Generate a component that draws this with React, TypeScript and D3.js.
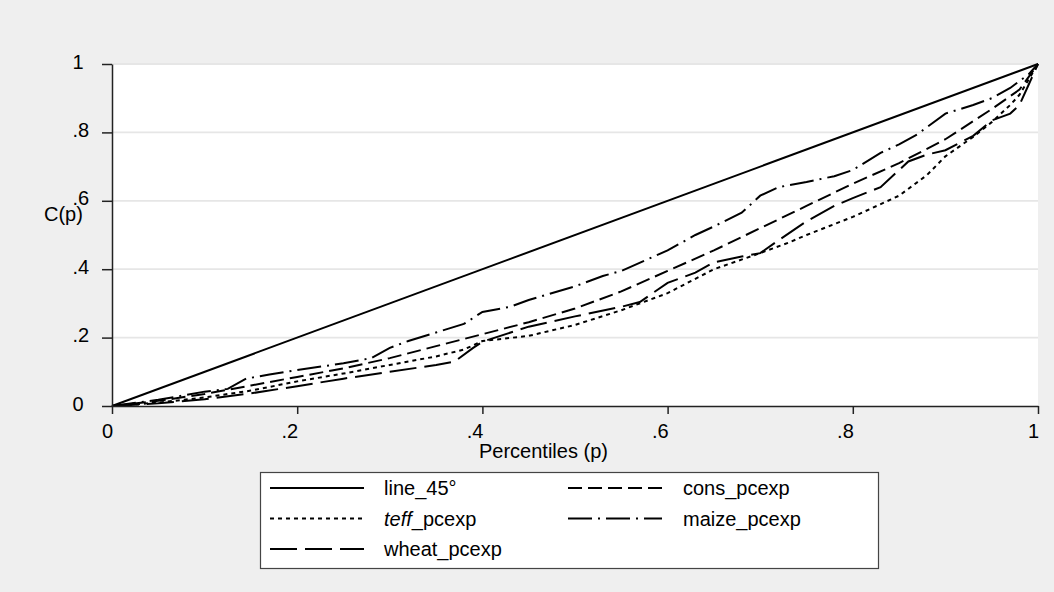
import React, { useEffect, useRef } from "react";
import * as d3 from "d3";

// concentration curves
const linePct = [0, 1];
const lineC = [0, 1];

const consPct = [0, 0.05, 0.1, 0.15, 0.2, 0.25, 0.3, 0.35, 0.4, 0.45, 0.5, 0.55, 0.6, 0.65, 0.7, 0.75, 0.8, 0.85, 0.9, 0.95, 0.98, 1];
const consC = [0, 0.015, 0.035, 0.06, 0.085, 0.11, 0.14, 0.175, 0.21, 0.245, 0.285, 0.335, 0.395, 0.455, 0.52, 0.585, 0.65, 0.71, 0.78, 0.868, 0.925, 1];

const teffPct = [0, 0.05, 0.1, 0.15, 0.2, 0.25, 0.3, 0.35, 0.38, 0.4, 0.45, 0.5, 0.55, 0.6, 0.65, 0.7, 0.73, 0.75, 0.8, 0.85, 0.88, 0.9, 0.93, 0.95, 0.97, 0.98, 1];
const teffC = [0, 0.01, 0.025, 0.045, 0.072, 0.095, 0.12, 0.145, 0.165, 0.19, 0.205, 0.237, 0.28, 0.33, 0.4, 0.447, 0.477, 0.5, 0.553, 0.615, 0.675, 0.73, 0.787, 0.83, 0.88, 0.91, 1];

const maizePct = [0, 0.05, 0.1, 0.125, 0.145, 0.17, 0.2, 0.25, 0.28, 0.3, 0.32, 0.35, 0.38, 0.4, 0.43, 0.45, 0.5, 0.53, 0.55, 0.6, 0.63, 0.65, 0.68, 0.7, 0.72, 0.75, 0.78, 0.8, 0.83, 0.85, 0.87, 0.9, 0.93, 0.95, 0.97, 0.99, 1];
const maizeC = [0, 0.018, 0.042, 0.05, 0.08, 0.092, 0.105, 0.125, 0.14, 0.17, 0.19, 0.215, 0.24, 0.275, 0.29, 0.31, 0.35, 0.38, 0.395, 0.455, 0.5, 0.525, 0.565, 0.615, 0.64, 0.655, 0.672, 0.69, 0.74, 0.765, 0.795, 0.855, 0.88, 0.9, 0.93, 0.97, 1];

const wheatPct = [0, 0.05, 0.1, 0.15, 0.2, 0.25, 0.3, 0.35, 0.37, 0.39, 0.4, 0.45, 0.5, 0.55, 0.57, 0.6, 0.63, 0.65, 0.68, 0.7, 0.72, 0.75, 0.78, 0.8, 0.83, 0.86, 0.88, 0.9, 0.93, 0.95, 0.97, 0.98, 0.99, 1];
const wheatC = [0, 0.008, 0.02, 0.037, 0.058, 0.08, 0.1, 0.12, 0.13, 0.17, 0.188, 0.232, 0.262, 0.29, 0.304, 0.36, 0.39, 0.42, 0.437, 0.447, 0.485, 0.54, 0.585, 0.608, 0.64, 0.715, 0.735, 0.748, 0.79, 0.835, 0.855, 0.88, 0.94, 1];

const yTicks = [0, 0.2, 0.4, 0.6, 0.8, 1];
const xTicks = [0, 0.2, 0.4, 0.6, 0.8, 1];

const series = [
  { name: "line_45°", pct: linePct, c: lineC, dash: null, col: 0, row: 0 },
  { name: "cons_pcexp", pct: consPct, c: consC, dash: "14,6", col: 1, row: 0 },
  { name: "teff_pcexp", pct: teffPct, c: teffC, dash: "4,4", col: 0, row: 1 },
  { name: "maize_pcexp", pct: maizePct, c: maizeC, dash: "24,6,2,6", col: 1, row: 1 },
  { name: "wheat_pcexp", pct: wheatPct, c: wheatC, dash: "27,8", col: 0, row: 2 },
];

const fmt = (d) => (d === 0 ? "0" : d === 1 ? "1" : String(d).replace(/^0/, ""));
const FONT = "Arial, 'Liberation Sans', Helvetica, sans-serif";

const App = () => {
  const svgRef = useRef();

  useEffect(() => {
    const W = 1054;
    const H = 592;
    const left = 112, right = 1038, top = 64, bottom = 406;

    const svg = d3.select(svgRef.current);
    svg.selectAll("*").remove();
    svg.attr("width", W).attr("height", H).style("font-family", FONT);

    svg.append("rect").attr("width", W).attr("height", H).attr("fill", "#efefef");
    svg.append("rect")
      .attr("x", left).attr("y", top)
      .attr("width", right - left).attr("height", bottom - top)
      .attr("fill", "#ffffff");

    const x = d3.scaleLinear().domain([0, 1]).range([left, right]);
    const y = d3.scaleLinear().domain([0, 1]).range([bottom, top]);

    // gridlines
    svg.append("g")
      .selectAll("line")
      .data(yTicks.filter((d) => d > 0))
      .enter()
      .append("line")
      .attr("x1", left).attr("x2", right)
      .attr("y1", (d) => y(d)).attr("y2", (d) => y(d))
      .attr("stroke", "#e6e6e6")
      .attr("stroke-width", 1.8);

    // curves
    const line = d3.line().x((d) => x(d[0])).y((d) => y(d[1]));
    series.forEach((s) => {
      const pts = s.pct.map((p, i) => [p, s.c[i]]);
      svg.append("path")
        .datum(pts)
        .attr("d", line)
        .attr("fill", "none")
        .attr("stroke", "#000")
        .attr("stroke-width", 2)
        .attr("stroke-dasharray", s.dash);
    });

    // axes
    const yAxis = svg.append("g")
      .attr("transform", `translate(${left},0)`)
      .call(d3.axisLeft(y).tickValues(yTicks).tickFormat(fmt).tickSize(10).tickSizeOuter(0));
    yAxis.select(".domain").attr("stroke", "#222").attr("stroke-width", 1.5);
    yAxis.selectAll(".tick line").attr("stroke", "#222").attr("stroke-width", 1.5);
    yAxis.selectAll(".tick text")
      .attr("x", -39.5).attr("dy", null).attr("y", 4)
      .attr("text-anchor", "start")
      .attr("fill", "#000")
      .style("font-size", "20px").style("font-family", FONT);

    const xAxis = svg.append("g")
      .attr("transform", `translate(0,${bottom})`)
      .call(d3.axisBottom(x).tickValues(xTicks).tickFormat(fmt).tickSize(8).tickSizeOuter(0));
    xAxis.select(".domain").attr("stroke", "#222").attr("stroke-width", 1.5);
    xAxis.selectAll(".tick line").attr("stroke", "#222").attr("stroke-width", 1.5);
    xAxis.selectAll(".tick text")
      .attr("x", 0.5).attr("dy", null).attr("y", 32)
      .attr("text-anchor", "end")
      .attr("fill", "#000")
      .style("font-size", "20px").style("font-family", FONT);

    // axis titles
    svg.append("text")
      .attr("x", 479).attr("y", 458)
      .style("font-size", "20px")
      .text("Percentiles (p)");
    svg.append("text")
      .attr("x", 44).attr("y", 221)
      .style("font-size", "20px")
      .text("C(p)");

    // legend
    const lg = svg.append("g");
    lg.append("rect")
      .attr("x", 260.5).attr("y", 472.5)
      .attr("width", 618).attr("height", 96)
      .attr("fill", "#fff")
      .attr("stroke", "#444")
      .attr("stroke-width", 1.2);
    const colX = [270, 568];
    const textX = [384, 683];
    const rowY = [488, 518.5, 549];
    series.forEach((s) => {
      lg.append("line")
        .attr("x1", colX[s.col]).attr("x2", colX[s.col] + 94)
        .attr("y1", rowY[s.row]).attr("y2", rowY[s.row])
        .attr("stroke", "#000")
        .attr("stroke-width", 2)
        .attr("stroke-dasharray", s.dash);
      const t = lg.append("text")
        .attr("x", textX[s.col]).attr("y", rowY[s.row] + 7)
        .style("font-size", "20px");
      if (s.name.startsWith("teff")) {
        t.append("tspan").style("font-style", "italic").text("teff");
        t.append("tspan").text("_pcexp");
      } else {
        t.text(s.name);
      }
    });
  }, []);

  return <svg ref={svgRef} style={{ position: "absolute", left: 0, top: 0 }}></svg>;
};

export default App;
